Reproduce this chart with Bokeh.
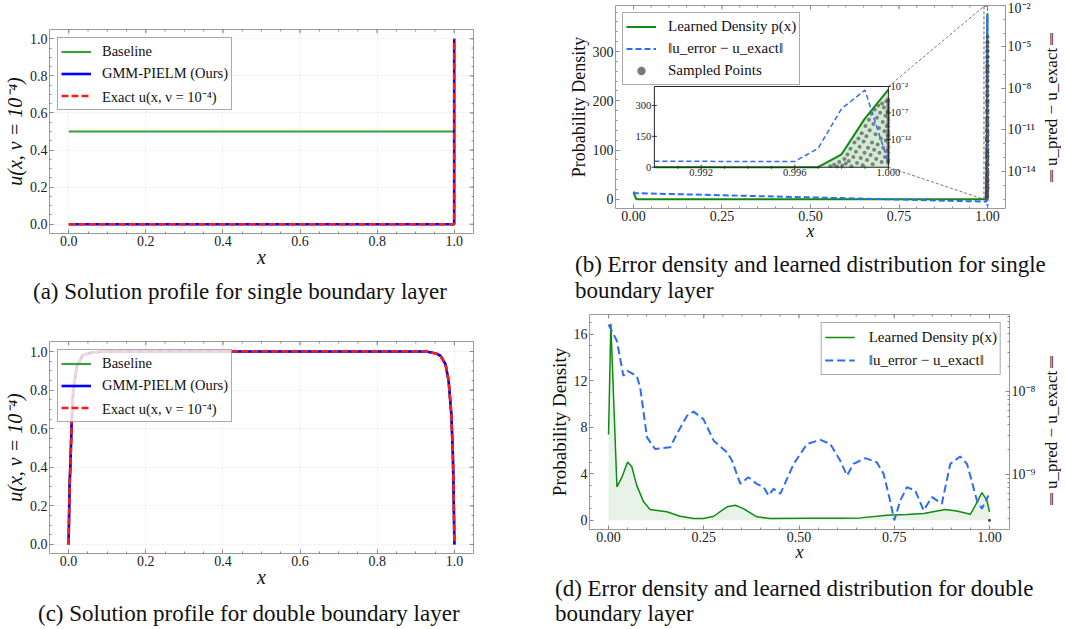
import numpy as np
from bokeh.plotting import figure
from bokeh.models import (Range1d, LogAxis, LogScale, FixedTicker,
                          CustomJSTickFormatter, NumeralTickFormatter, Legend, Div)
from bokeh.layouts import row, column
from bokeh.embed import file_html
from bokeh.resources import INLINE
from bokeh.core.properties import value

SERIF = "Liberation Serif"

# ---------------- data ----------------
# (a) single boundary layer
a_base_x = [0.0, 1.0]
a_base_u = [0.5, 0.5]
a_x = [0.0, 0.9999, 1.0]
a_gmm_u = [0.0, 0.0, 1.0]
a_exact_u = [0.0, 0.0, 1.0]

# (c) double boundary layer
c_x = [0.0, 0.0025, 0.005, 0.008, 0.012, 0.021, 0.036, 0.060, 0.093, 0.5,
       0.927, 0.952, 0.964, 0.977, 0.985, 0.992, 0.996, 0.998, 1.0]
c_base_u = [0.0, 0.30, 0.43, 0.64, 0.80, 0.92, 0.98, 0.995, 1.0, 1.0,
            1.0, 0.99, 0.978, 0.934, 0.848, 0.676, 0.469, 0.262, 0.0]
c_gmm_u = [0.0, 0.30, 0.43, 0.64, 0.80, 0.92, 0.98, 0.995, 1.0, 1.0,
           1.0, 0.99, 0.978, 0.934, 0.848, 0.676, 0.469, 0.262, 0.0]
c_exact_u = [0.0, 0.30, 0.43, 0.64, 0.80, 0.92, 0.98, 0.995, 1.0, 1.0,
             1.0, 0.99, 0.978, 0.934, 0.848, 0.676, 0.469, 0.262, 0.0]

# (b) single boundary layer: learned density and error
b_dens_x = [0.0, 0.008, 0.990, 0.997, 0.998, 0.999, 1.0]
b_dens = [14.0, 0.0, 0.0, 0.0, 63.0, 237.0, 377.0]
b_err_x = [0.0, 0.004, 0.990, 0.996, 0.997, 0.998, 0.999, 1.0]
b_err = [3.5e-16, 2.7e-16, 6.6e-17, 6.3e-17, 2.0e-14, 6.3e-7, 2.0e-3, 3.2e-17]
b_pts_x = [0.99752, 0.99768, 0.99781, 0.99790, 0.99803, 0.99812, 0.99818, 0.99825, 0.99831,
           0.99838, 0.99842, 0.99850, 0.99855, 0.99861, 0.99866, 0.99872, 0.99877, 0.99882,
           0.99886, 0.99890, 0.99894, 0.99898, 0.99902, 0.99906, 0.99909, 0.99913, 0.99917,
           0.99920, 0.99924, 0.99927, 0.99930, 0.99933, 0.99936, 0.99939, 0.99942, 0.99945,
           0.99948, 0.99951, 0.99954, 0.99957, 0.99960, 0.99962, 0.99965, 0.99968, 0.99971,
           0.99973, 0.99976, 0.99978, 0.99981, 0.99983, 0.99985, 0.99987, 0.99989, 0.99991,
           0.99993, 0.99995, 0.99996, 0.99997, 0.99998,
           0.99999, 1.0, 0.99999, 1.0, 0.99999, 1.0, 0.99999, 1.0, 0.99999, 1.0,
           0.99999, 1.0, 0.99999, 1.0, 0.99999, 1.0, 0.99999, 1.0, 0.99999, 1.0, 0.99999]
b_pts_y = [5, 12, 3, 25, 8, 40, 18, 62, 30,
           90, 5, 50, 120, 75, 20, 140, 100, 45,
           165, 10, 125, 70, 200, 150, 35, 95, 230,
           180, 60, 260, 120, 15, 210, 85, 280, 160,
           40, 240, 110, 300, 190, 70, 265, 140, 25,
           310, 220, 95, 290, 175, 50, 250, 130, 320,
           200, 80, 270, 155, 30,
           22, 38, 55, 70, 88, 102, 118, 135, 150, 166,
           180, 196, 212, 228, 242, 258, 272, 288, 302, 318, 330]

# (d) double boundary layer: learned density and error
d_dens_x = [0.0, 0.006, 0.022, 0.035, 0.050, 0.061, 0.074, 0.092, 0.109, 0.123,
            0.153, 0.188, 0.223, 0.249, 0.276, 0.311, 0.333, 0.354, 0.389, 0.424,
            0.521, 0.608, 0.661, 0.731, 0.783, 0.827, 0.884, 0.914, 0.950, 0.965,
            0.980, 0.993, 1.0]
d_dens = [7.37, 16.9, 2.87, 3.7, 5.0, 4.6, 3.0, 1.58, 0.92, 0.86,
          0.72, 0.34, 0.14, 0.14, 0.34, 1.15, 1.29, 1.0, 0.29, 0.14,
          0.17, 0.17, 0.2, 0.43, 0.49, 0.57, 0.92, 0.8, 0.52, 1.4,
          2.38, 1.72, 0.72]
d_err_x = [0.0, 0.022, 0.039, 0.050, 0.074, 0.083, 0.101, 0.122, 0.162, 0.179,
           0.206, 0.223, 0.249, 0.276, 0.311, 0.324, 0.346, 0.367, 0.389, 0.407,
           0.420, 0.433, 0.451, 0.486, 0.521, 0.556, 0.582, 0.608, 0.626, 0.643,
           0.674, 0.704, 0.722, 0.739, 0.750, 0.766, 0.783, 0.805, 0.827, 0.849,
           0.875, 0.897, 0.923, 0.941, 0.967, 0.980, 0.997]
d_err_log10 = [-7.19, -7.39, -7.81, -7.75, -7.81, -7.95, -8.55, -8.69, -8.67, -8.51,
               -8.29, -8.24, -8.33, -8.59, -8.73, -8.83, -9.11, -9.03, -9.11, -9.15,
               -9.25, -9.17, -9.23, -8.87, -8.63, -8.58, -8.63, -8.83, -9.01, -8.87,
               -8.80, -8.85, -8.99, -9.31, -9.55, -9.31, -9.15, -9.19, -9.43, -9.27,
               -9.35, -8.87, -8.78, -8.87, -9.31, -9.41, -9.25]
d_err = [10 ** v for v in d_err_log10]
d_pts_x = [1.0]
d_pts_y = [0.0]

# ticks and labels
ticks_u = [0.0, 0.2, 0.4, 0.6, 0.8, 1.0]
minor_u = [round(v, 2) for v in np.arange(0.0, 1.01, 0.05)]
ticks_bx = [0.0, 0.25, 0.5, 0.75, 1.0]
minor_bx = [round(v, 4) for v in np.arange(0.0, 1.01, 0.05)]
ticks_by = [0, 100, 200, 300]
minor_by = list(range(0, 400, 20))
ticks_berr = [1e-14, 1e-11, 1e-8, 1e-5, 1e-2]
minor_berr = [10.0 ** k for k in range(-16, -1)]
ticks_dy = [0, 4, 8, 12, 16]
minor_dy = list(range(0, 18, 1))
ticks_derr = [1e-9, 1e-8]
minor_derr = [m * 10.0 ** k for k in (-10, -9, -8) for m in range(2, 10)]
inset_xt = [0.992, 0.996, 1.000]
inset_xt_labels = ["0.992", "0.996", "1.000"]
inset_xminor = [0.991, 0.993, 0.994, 0.995, 0.997, 0.998, 0.999]
inset_yt = [0, 150, 300]
inset_yt_labels = ["0", "150", "300"]
inset_et = [1e-2, 1e-7, 1e-12]

ERR_LABEL = "\u2016u_pred \u2212 u_exact\u2016"
LEG_ERR = "\u2016u_error \u2212 u_exact\u2016"

SUP = {"-": "\u207b", "0": "\u2070", "1": "\u00b9", "2": "\u00b2", "3": "\u00b3",
       "4": "\u2074", "5": "\u2075", "6": "\u2076", "7": "\u2077", "8": "\u2078", "9": "\u2079"}


def pow10_label(v):
    e = int(round(np.log10(v)))
    return "10" + "".join(SUP[c] for c in str(e))


LOG_FMT = CustomJSTickFormatter(code="""
const e = Math.round(Math.log10(tick));
const m = {"-": "\u207b", "0": "\u2070", "1": "\u00b9", "2": "\u00b2", "3": "\u00b3",
           "4": "\u2074", "5": "\u2075", "6": "\u2076", "7": "\u2077", "8": "\u2078", "9": "\u2079"};
return "10" + String(e).split("").map(c => m[c]).join("");
""")

# ---------------- styling helpers ----------------
GREEN_A = "#3a9e3a"
BLUE_A = "#0000ff"
RED_A = "#ff1a1a"
GREEN_B = "#128a12"
BLUE_B = "#2f6cf6"
TICK_C = "#8a8a8a"


def style_axis(ax, size="14px"):
    ax.major_tick_in = 4
    ax.major_tick_out = 0
    ax.minor_tick_in = 2
    ax.minor_tick_out = 0
    ax.axis_line_color = None
    ax.major_tick_line_color = TICK_C
    ax.minor_tick_line_color = TICK_C
    ax.major_label_text_font = SERIF
    ax.major_label_text_color = "#222222"
    ax.major_label_text_font_size = size
    ax.major_label_standoff = 2
    ax.axis_label_text_font = SERIF
    ax.axis_label_text_color = "#111111"
    ax.axis_label_text_font_style = "normal"
    ax.axis_label_standoff = 1


def make_fig(w, h, xr, yr, bl, br, bt, bb):
    p = figure(width=w, height=h, x_range=Range1d(*xr), y_range=Range1d(*yr),
               output_backend="svg", toolbar_location=None,
               min_border_left=bl, min_border_right=br, min_border_top=bt, min_border_bottom=bb)
    p.outline_line_color = "#9a9a9a"
    p.outline_line_width = 1
    p.border_fill_color = "white"
    return p


def mirror_ticks(p, xr, yr, xt, xm, yt=None, ym=None):
    # inward ticks on the top (and right) frame edges; half of each dash is clipped by the frame
    p.scatter(xm, [yr[1]] * len(xm), marker="dash", angle=np.pi / 2, size=4, line_color=TICK_C)
    p.scatter(xt, [yr[1]] * len(xt), marker="dash", angle=np.pi / 2, size=8, line_color=TICK_C)
    if yt is not None:
        p.scatter([xr[1]] * len(ym), ym, marker="dash", size=4, line_color=TICK_C)
        p.scatter([xr[1]] * len(yt), yt, marker="dash", size=8, line_color=TICK_C)


def style_legend(leg, size="15px", lh=20, spacing=2, padding=4, margin=8, standoff=10):
    leg.label_text_font = SERIF
    leg.label_text_font_size = size
    leg.label_text_color = "#111111"
    leg.glyph_width = 30
    leg.glyph_height = lh
    leg.label_height = lh
    leg.spacing = spacing
    leg.padding = padding
    leg.margin = margin
    leg.label_standoff = standoff
    leg.border_line_color = "#555555"
    leg.border_line_width = 1
    leg.background_fill_color = "white"
    leg.background_fill_alpha = 0.8


def caption(html, w, h, mt, ml, lh):
    return Div(text=('<div style="margin:%dpx 0 0 %dpx;font-family:\'Liberation Serif\',serif;'
                     'font-size:23px;line-height:%dpx;white-space:nowrap;color:#111">%s</div>')
               % (mt, ml, lh, html), width=w, height=h, margin=0)


def side_label(text, w, h, top, span):
    # title of the right-hand (log) axis, rotated to read from bottom to top
    return Div(text=('<div style="margin-top:%dpx;height:%dpx;width:%dpx;writing-mode:vertical-rl;'
                     'transform:rotate(180deg);text-align:center;white-space:nowrap;'
                     'font-family:\'Liberation Serif\',serif;font-size:17px;line-height:%dpx;'
                     'color:#111">%s</div>') % (top, span, w, w, text),
               width=w, height=h, margin=0)


def solution_panel(w, h, xr, yr, bl, br, bt, bb, bx, bu, gx, gu, ex, eu):
    p = make_fig(w, h, xr, yr, bl, br, bt, bb)
    for ax in (p.xaxis[0], p.yaxis[0]):
        style_axis(ax, size="14px")
    p.xaxis.ticker = FixedTicker(ticks=ticks_u, minor_ticks=minor_u)
    p.yaxis.ticker = FixedTicker(ticks=ticks_u, minor_ticks=minor_u)
    p.xaxis.formatter = NumeralTickFormatter(format="0.0")
    p.yaxis.formatter = NumeralTickFormatter(format="0.0")
    p.xaxis.axis_label = "x"
    p.yaxis.axis_label = "u(x, \u03bd = 10\u207b\u2074)"
    p.xaxis.axis_label_text_font_size = "20px"
    p.yaxis.axis_label_text_font_size = "20px"
    p.xaxis.axis_label_text_font_style = "italic"
    p.yaxis.axis_label_text_font_style = "italic"
    p.xaxis.axis_label_standoff = -3
    p.grid.grid_line_color = "#e4e4e4"
    p.grid.grid_line_dash = "2 2"
    p.grid.grid_line_width = 0.8
    mirror_ticks(p, xr, yr, ticks_u, minor_u, ticks_u, minor_u)
    r1 = p.line(bx, bu, line_color=GREEN_A, line_width=2.2)
    r2 = p.line(gx, gu, line_color=BLUE_A, line_width=2.6)
    r3 = p.line(ex, eu, line_color=RED_A, line_width=2.6, line_dash="7 3")
    leg = Legend(items=[("Baseline", [r1]), ("GMM-PIELM (Ours)", [r2]),
                        ("Exact u(x, \u03bd = 10\u207b\u2074)", [r3])], location="top_left")
    style_legend(leg, size="14.5px", lh=21, spacing=1, padding=3, margin=8, standoff=11)
    p.add_layout(leg)
    return p


# ---------------- panel (a) ----------------
A_X = (-0.05, 1.05)
A_Y = (-0.05, 1.05)
fa = solution_panel(540, 277, A_X, A_Y, 47, 67, 29, 44,
                    a_base_x, a_base_u, a_x, a_gmm_u, a_x, a_exact_u)

# ---------------- panel (c) ----------------
C_X = (-0.0495, 1.0495)
C_Y = (-0.047, 1.052)
fc = solution_panel(540, 285, C_X, C_Y, 49, 47, 29, 44,
                    c_x, c_base_u, c_x, c_gmm_u, c_x, c_exact_u)

# ---------------- panel (b) ----------------
B_X = (-0.0508, 1.0508)
B_Y = (-18.8, 393.5)
B_ERR = (-16.68, -2.0)          # log10 limits of right axis
INSET_XLIM = (0.990, 1.000)
INSET_YLIM = (0.0, 392.0)
INSET_ELIM = (-17.3, -2.0)      # log10 limits of inset right axis
IX = (0.059, 0.720)             # inset box, main-x coordinates
IY = (65.0, 229.0)              # inset box, main-y coordinates


def inv_range(m, box, lim):
    s = (lim[1] - lim[0]) / (box[1] - box[0])
    return lim[0] + (m[0] - box[0]) * s, lim[0] + (m[1] - box[0]) * s


fb = make_fig(500, 250, B_X, B_Y, 75, 35, 5, 42)
ie0, ie1 = inv_range(B_Y, IY, INSET_ELIM)
fb.extra_x_ranges = {"ix": Range1d(*inv_range(B_X, IX, INSET_XLIM))}
fb.extra_y_ranges = {"err": Range1d(10 ** B_ERR[0], 10 ** B_ERR[1]),
                     "iy": Range1d(*inv_range(B_Y, IY, INSET_YLIM)),
                     "ie": Range1d(10 ** ie0, 10 ** ie1)}
fb.extra_y_scales = {"err": LogScale(), "ie": LogScale()}
fb.grid.grid_line_color = None
style_axis(fb.xaxis[0])
style_axis(fb.yaxis[0])
fb.xaxis.ticker = FixedTicker(ticks=ticks_bx, minor_ticks=minor_bx)
fb.xaxis.formatter = NumeralTickFormatter(format="0.00")
fb.yaxis.ticker = FixedTicker(ticks=ticks_by, minor_ticks=minor_by)
fb.xaxis.axis_label = "x"
fb.xaxis.axis_label_text_font_size = "18px"
fb.xaxis.axis_label_text_font_style = "italic"
fb.xaxis.axis_label_standoff = -3
fb.yaxis.axis_label = "Probability Density"
fb.yaxis.axis_label_text_font_size = "18px"
rb = LogAxis(y_range_name="err", ticker=FixedTicker(ticks=ticks_berr, minor_ticks=minor_berr),
             formatter=LOG_FMT)
style_axis(rb)
fb.add_layout(rb, "right")
mirror_ticks(fb, B_X, B_Y, ticks_bx, minor_bx)

g1 = fb.line(b_dens_x, b_dens, line_color=GREEN_B, line_width=2)
fb.varea(x=b_dens_x, y1=0, y2=b_dens, fill_color=GREEN_B, fill_alpha=0.15)
e1 = fb.line(b_err_x, b_err, y_range_name="err", line_color=BLUE_B, line_width=2, line_dash="6 3")
s1 = fb.scatter(b_pts_x, b_pts_y, size=4, fill_color="#404040", line_color=None, fill_alpha=0.7)
# zoom indicator and connectors
fb.quad(left=[INSET_XLIM[0]], right=[INSET_XLIM[1]], bottom=[INSET_YLIM[0]], top=[INSET_YLIM[1]],
        fill_color=None, line_color="#666666", line_width=1, line_dash="3 2")
fb.segment(x0=[IX[1], IX[1]], y0=[IY[1], IY[0]], x1=[INSET_XLIM[0], INSET_XLIM[0]],
           y1=[INSET_YLIM[1], INSET_YLIM[0]], line_color="#666666", line_width=0.9, line_dash="3 2")
# inset
fb.quad(left=[IX[0]], right=[IX[1]], bottom=[IY[0]], top=[IY[1]], fill_color="white", line_color=None)
ii = [i for i, x in enumerate(b_dens_x) if x >= INSET_XLIM[0]]
ie = [i for i, x in enumerate(b_err_x) if x >= INSET_XLIM[0]]
fb.varea(x=[b_dens_x[i] for i in ii], y1=0, y2=[b_dens[i] for i in ii],
         x_range_name="ix", y_range_name="iy", fill_color=GREEN_B, fill_alpha=0.18)
fb.scatter(b_pts_x, b_pts_y, x_range_name="ix", y_range_name="iy", size=4,
           fill_color="#404040", line_color=None, fill_alpha=0.6)
fb.line([b_dens_x[i] for i in ii], [b_dens[i] for i in ii], x_range_name="ix", y_range_name="iy",
        line_color=GREEN_B, line_width=2)
fb.line([b_err_x[i] for i in ie], [b_err[i] for i in ie], x_range_name="ix", y_range_name="ie",
        line_color=BLUE_B, line_width=1.5, line_dash="5 3")
fb.quad(left=[IX[0]], right=[IX[1]], bottom=[IY[0]], top=[IY[1]], fill_color=None,
        line_color="#222222", line_width=1)
fb.scatter(inset_xt, [INSET_YLIM[0]] * len(inset_xt), x_range_name="ix", y_range_name="iy",
           marker="dash", angle=np.pi / 2, size=5, line_color="#333333")
fb.scatter(inset_xminor, [INSET_YLIM[0]] * len(inset_xminor), x_range_name="ix", y_range_name="iy",
           marker="dash", angle=np.pi / 2, size=3, line_color="#333333")
fb.scatter([INSET_XLIM[0]] * len(inset_yt), inset_yt, x_range_name="ix", y_range_name="iy",
           marker="dash", size=5, line_color="#333333")
fb.scatter([INSET_XLIM[1]] * len(inset_et), inset_et, x_range_name="ix", y_range_name="ie",
           marker="dash", size=5, line_color="#333333")
fb.text(x=inset_xt, y=[INSET_YLIM[0]] * len(inset_xt), text=inset_xt_labels, x_range_name="ix",
        y_range_name="iy", text_font=value(SERIF), text_font_size="10.5px", text_align="center",
        text_baseline="top", y_offset=2, text_color="#222222")
fb.text(x=[INSET_XLIM[0]] * len(inset_yt), y=inset_yt, text=inset_yt_labels, x_range_name="ix",
        y_range_name="iy", text_font=value(SERIF), text_font_size="10.5px", text_align="right",
        text_baseline="middle", x_offset=-3, text_color="#222222")
fb.text(x=[INSET_XLIM[1]] * len(inset_et), y=inset_et, text=[pow10_label(v) for v in inset_et],
        x_range_name="ix", y_range_name="ie", text_font=value(SERIF), text_font_size="10.5px",
        text_align="left", text_baseline="middle", x_offset=2, text_color="#222222")

legb = Legend(items=[("Learned Density p(x)", [g1]), (LEG_ERR, [e1]),
                     ("Sampled Points", [s1])], location="top_left")
style_legend(legb, size="15px", lh=21, spacing=1, padding=3, margin=7, standoff=12)
fb.add_layout(legb)
lab_b = side_label(ERR_LABEL, 24, 250, 5, 203)

# ---------------- panel (d) ----------------
D_X = (-0.05, 1.0525)
D_Y = (-0.8, 17.7)
fd = make_fig(500, 258, D_X, D_Y, 49, 31, 2, 41)
fd.extra_y_ranges = {"err": Range1d(10 ** -9.66, 10 ** -7.07)}
fd.extra_y_scales = {"err": LogScale()}
fd.grid.grid_line_color = None
style_axis(fd.xaxis[0])
style_axis(fd.yaxis[0])
fd.xaxis.ticker = FixedTicker(ticks=ticks_bx, minor_ticks=minor_bx)
fd.xaxis.formatter = NumeralTickFormatter(format="0.00")
fd.yaxis.ticker = FixedTicker(ticks=ticks_dy, minor_ticks=minor_dy)
fd.xaxis.axis_label = "x"
fd.xaxis.axis_label_text_font_size = "18px"
fd.xaxis.axis_label_text_font_style = "italic"
fd.xaxis.axis_label_standoff = -3
fd.yaxis.axis_label = "Probability Density"
fd.yaxis.axis_label_text_font_size = "19px"
rd = LogAxis(y_range_name="err", ticker=FixedTicker(ticks=ticks_derr, minor_ticks=minor_derr),
             formatter=LOG_FMT)
style_axis(rd)
fd.add_layout(rd, "right")
mirror_ticks(fd, D_X, D_Y, ticks_bx, minor_bx)

fd.varea(x=d_dens_x, y1=0, y2=d_dens, fill_color=GREEN_B, fill_alpha=0.1)
g2 = fd.line(d_dens_x, d_dens, line_color=GREEN_B, line_width=1.5)
e2 = fd.line(d_err_x, d_err, y_range_name="err", line_color=BLUE_B, line_width=2, line_dash="8 4")
fd.scatter(d_pts_x, d_pts_y, size=3, fill_color="#404040", line_color=None)
legd = Legend(items=[("Learned Density p(x)", [g2]), (LEG_ERR, [e2])], location="top_right")
style_legend(legd, size="15px", lh=22, spacing=1, padding=3, margin=8, standoff=14)
fd.add_layout(legd)
lab_d = side_label(ERR_LABEL, 24, 258, 10, 215)

# ---------------- captions & layout ----------------
cap_a = caption("(a) Solution profile for single boundary layer", 540, 35, 1, 33, 27)
cap_c = caption("(c) Solution profile for double boundary layer", 540, 31, 5, 38, 24)
cap_b = caption("(b) Error density and learned distribution for single<br>boundary layer",
                524, 62, 2, 35, 26)
cap_d = caption("(d) Error density and learned distribution for double<br>boundary layer",
                524, 58, 6, 15, 25)

layout = row(column(fa, cap_a, fc, cap_c),
             column(row(fb, lab_b), cap_b, row(fd, lab_d), cap_d))

open("out.html", "w").write(file_html(layout, INLINE))
